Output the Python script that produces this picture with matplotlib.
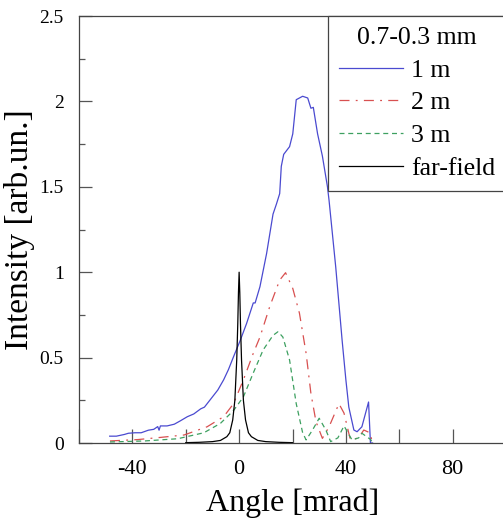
import numpy as np
import matplotlib.pyplot as plt
from matplotlib.ticker import FixedLocator, MultipleLocator

plt.rcParams['font.family'] = ['Liberation Serif', 'DejaVu Serif']
plt.rcParams['axes.unicode_minus'] = False

# 1 m (solid blue)
ang_1m = [-48.5, -46, -43, -41.5, -39, -36.7, -34, -32, -30.5, -30, -29.5, -27, -24.3, -22,
          -19.4, -17, -14.4, -13, -12, -10, -8, -5.8, -4, -2.1, 0.4, 2.8, 5.3, 6, 7.8, 10.3,
          12.7, 14, 15.2, 15.8, 16.7, 18.9, 20.1, 21.4, 23.8, 25.7, 26.9, 27.8, 29.4, 31.2,
          33.1, 33.7, 36.2, 38.6, 40, 41.1, 43, 44.2, 46, 48.5, 49.2, 50]
val_1m = [0.04, 0.04, 0.05, 0.057, 0.06, 0.06, 0.075, 0.08, 0.096, 0.075, 0.1, 0.1, 0.11, 0.13,
          0.154, 0.17, 0.2, 0.21, 0.23, 0.27, 0.31, 0.37, 0.43, 0.505, 0.60, 0.70, 0.82, 0.82,
          0.915, 1.11, 1.34, 1.4, 1.46, 1.62, 1.69, 1.735, 1.81, 2.01, 2.03, 2.02, 1.96, 1.965,
          1.81, 1.68, 1.50, 1.42, 1.03, 0.60, 0.37, 0.21, 0.076, 0.066, 0.095, 0.24, 0.0, 0.0]

# 2 m (dash-dot red)
ang_2m = [-48.4, -38, -29.3, -20.6, -12, -5.8, -2.1, 1.6, 5.3, 7.8, 11.5, 15.2, 17.4, 20.1,
          22.6, 25.1, 26.9, 28.8, 31.2, 33.7, 37.4, 39.3, 41.7, 44.8, 46.7, 49, 50]
val_2m = [0.012, 0.02, 0.033, 0.047, 0.095, 0.154, 0.23, 0.37, 0.525, 0.62, 0.80, 0.954,
          0.997, 0.905, 0.76, 0.525, 0.29, 0.125, 0.027, 0.095, 0.23, 0.175, 0.018, 0.03,
          0.076, 0.06, 0.0]

# 3 m (dashed green)
ang_3m = [-48.4, -35.4, -23, -13.2, -7, -2.1, 1.6, 5.3, 9, 12.7, 14.6, 16.4, 18.9, 21.4,
          23.8, 25.1, 27.5, 30, 32.5, 34.3, 37, 39.3, 42.3, 44.8, 46, 49.3, 50]
val_3m = [0.006, 0.012, 0.025, 0.06, 0.115, 0.19, 0.27, 0.41, 0.545, 0.63, 0.652, 0.62,
          0.486, 0.23, 0.06, 0.018, 0.076, 0.145, 0.076, 0.008, 0.03, 0.1, 0.018, 0.03,
          0.057, 0.02, 0.0]

# far-field (solid black)
ang_ff = [-20, -15, -10, -7, -4.6, -3.5, -2.4, -1.6, -0.9, -0.5, -0.25, 0,
          0.25, 0.5, 0.9, 1.6, 2.4, 3.5, 4.6, 7, 10, 15, 20]
val_ff = [0.002, 0.004, 0.008, 0.015, 0.037, 0.06, 0.135, 0.25, 0.486, 0.7, 0.88, 1.0,
          0.88, 0.7, 0.486, 0.25, 0.135, 0.06, 0.037, 0.015, 0.008, 0.004, 0.002]

fig = plt.figure(figsize=(5.03, 5.23), dpi=100)
ax = fig.add_axes([79 / 503, 1 - 443 / 523, 427 / 503, 427 / 523])

ax.plot(ang_1m, val_1m, color="#4a4ad0", lw=0.9, label="1 m")
ax.plot(ang_2m, val_2m, color="#d85050", lw=0.9, dashes=(8, 5, 1.5, 5), label="2 m")
ax.plot(ang_3m, val_3m, color="#3da060", lw=0.9, dashes=(4, 3), label="3 m")
ax.plot(ang_ff, val_ff, color="black", lw=0.9, label="far-field")

ax.set_xlim(-60, 100)
ax.set_ylim(0, 2.5)

ax.xaxis.set_major_locator(FixedLocator([-40, 0, 40, 80]))
ax.xaxis.set_minor_locator(MultipleLocator(20))
ax.yaxis.set_major_locator(MultipleLocator(0.5))
ax.yaxis.set_minor_locator(MultipleLocator(0.25))
ax.yaxis.set_major_formatter(plt.FuncFormatter(lambda v, p: f"{v:g}"))
ax.tick_params(axis="x", which="both", direction="in", length=10, width=0.9,
               color="#555555", labelsize=16, pad=12)
ax.tick_params(axis="y", which="major", direction="in", length=9.5, width=0.9,
               color="#555555", labelsize=14, pad=11)
ax.tick_params(axis="y", which="minor", direction="in", length=4.5, width=0.9, color="#555555")
ax.tick_params(top=False, right=False, which="both")

for s in ax.spines.values():
    s.set_color("#444444")
    s.set_linewidth(0.9)

ax.set_xlabel("Angle [mrad]", fontsize=23, labelpad=7)
ax.set_ylabel("Intensity [arb.un.]", fontsize=24, labelpad=3)

leg = ax.legend(title="0.7-0.3 mm", loc="upper right", bbox_to_anchor=(1.0, 1.0),
                fontsize=18.5, title_fontsize=18.5, fancybox=False, framealpha=1,
                edgecolor="#444444", borderaxespad=0, handlelength=2.5,
                handletextpad=0.31, labelspacing=0.38, borderpad=0.42)
leg.get_frame().set_linewidth(0.9)

fig.savefig("out.png", dpi=100)
